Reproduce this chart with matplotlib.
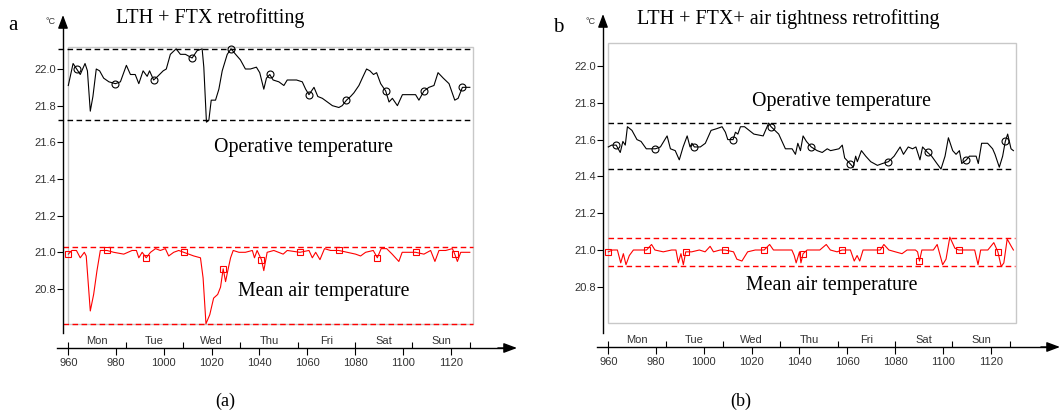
import numpy as np
import matplotlib
matplotlib.use("Agg")
import matplotlib.pyplot as plt
from matplotlib.patches import Rectangle

plt.rcParams['font.family'] = ['Liberation Sans Narrow', 'Liberation Sans', 'DejaVu Sans']
SERIF = ['Liberation Serif', 'DejaVu Serif']

# ---- data (hour of year, deg C) ----
a_op_t = [960, 962, 963.5, 965, 967, 968, 969.2, 970.3, 971.7, 973.1, 974.8, 977, 979.7, 981.8,
          984.3, 986, 988, 989.5, 991.3, 993, 994, 995.7, 997.4, 999.7, 1001, 1002.7, 1005.1,
          1006.9, 1009, 1011.8, 1013.9, 1016, 1016.7, 1017.8, 1018.8, 1019.8, 1021.6, 1023,
          1024.4, 1026.5, 1028.1, 1030, 1032, 1034.1, 1036.2, 1038.7, 1040.1, 1041.8, 1042.9,
          1044.3, 1045.7, 1048.1, 1050.2, 1051.6, 1055.5, 1057.9, 1059.3, 1060.7, 1062.8,
          1064.4, 1066.3, 1068.4, 1070.5, 1073.2, 1074.6, 1076.4, 1078.1, 1079.5, 1081.6, 1083,
          1084.8, 1086.2, 1087.7, 1089, 1090.7, 1092.8, 1094.2, 1095.6, 1097.7, 1099.8, 1102.6,
          1105.3, 1106.7, 1108.8, 1110.9, 1113, 1114.7, 1116.9, 1119.3, 1121.7, 1123.1, 1124.9, 1128]
a_op_v = [21.91, 22.03, 22.00, 21.97, 22.03, 21.99, 21.77, 21.85, 22.00, 21.99, 21.95, 21.93, 21.92, 21.93,
          22.02, 21.97, 21.97, 21.92, 21.99, 21.96, 21.99, 21.94, 21.96, 21.99, 22.00, 22.08, 22.11,
          22.08, 22.08, 22.06, 22.10, 22.11, 22.01, 21.71, 21.72, 21.83, 21.83, 21.89,
          21.99, 22.08, 22.11, 22.08, 22.05, 22.00, 22.00, 22.01, 21.98, 21.89, 21.95,
          21.97, 21.94, 21.93, 21.91, 21.94, 21.94, 21.93, 21.89, 21.86, 21.90,
          21.85, 21.84, 21.82, 21.80, 21.79, 21.80, 21.83, 21.85, 21.87, 21.91, 21.95,
          22.00, 21.99, 21.97, 21.98, 21.92, 21.88, 21.82, 21.84, 21.80, 21.86, 21.86,
          21.86, 21.83, 21.88, 21.90, 21.91, 21.98, 21.95, 21.92, 21.83, 21.84, 21.90, 21.90]
a_op_marks = [963.5, 979.7, 995.7, 1011.8, 1028.1, 1044.3, 1060.7, 1076.4, 1092.8, 1108.8, 1124.9]

a_air_t = [960, 961.5, 963.4, 965, 966.7, 967.5, 969.2, 970.6, 972, 973.4, 976.2, 979, 983.2, 986.7,
           988.5, 989.5, 990.9, 992.6, 994.4, 996.5, 998.5, 1000.6, 1002, 1004.1, 1006.2, 1008.3,
           1010.4, 1012.5, 1015.3, 1016.4, 1017.6, 1019.2, 1020.8, 1022.5, 1023.7, 1024.8, 1025.8,
           1026.9, 1027.9, 1029, 1031.4, 1034.1, 1037, 1037.9, 1039, 1040.8, 1041.8, 1043.2, 1046,
           1049.9, 1051.6, 1056.9, 1060.7, 1062.1, 1063.5, 1065.3, 1067.2, 1069.7, 1073.2, 1076.7,
           1080.2, 1082.3, 1084.4, 1087.6, 1089.3, 1090.9, 1093.2, 1095.5, 1098.3, 1099.7, 1105.3,
           1108.8, 1111.6, 1113.4, 1115.1, 1117.9, 1120.7, 1121.7, 1122.8, 1124.2, 1128]
a_air_v = [20.99, 21.01, 21.01, 20.97, 21.00, 20.98, 20.68, 20.77, 20.90, 21.01, 21.01, 21.00, 20.99, 21.01,
           21.01, 20.97, 21.00, 20.97, 21.00, 21.02, 21.01, 21.02, 20.98, 21.00, 21.01, 21.00,
           20.99, 20.98, 20.97, 20.86, 20.61, 20.66, 20.75, 20.77, 20.81, 20.91, 20.84,
           20.91, 20.97, 21.01, 21.00, 21.00, 21.01, 20.97, 21.01, 20.96, 20.90, 21.00, 21.01,
           20.99, 21.01, 21.00, 21.01, 20.97, 21.00, 20.96, 21.02, 21.01, 21.01, 21.00,
           20.99, 20.98, 21.00, 21.01, 20.97, 21.02, 21.02, 20.99, 20.95, 21.00, 21.00,
           20.99, 21.01, 20.95, 21.01, 21.01, 21.02, 20.99, 20.95, 21.00, 21.00]
a_air_marks = [960, 976.2, 992.6, 1008.3, 1024.8, 1040.8, 1056.9, 1073.2, 1089.3, 1105.3, 1121.7]

b_op_t = [960, 961.4, 963.3, 965, 966.1, 967.1, 968, 969.9, 972, 973.7, 975.9, 979.7, 981.8, 984.6,
          986, 988, 989.7, 991.3, 993, 994.2, 995, 996, 998.5, 1000.6, 1003, 1005.5, 1007.6, 1009,
          1010, 1012.2, 1013.2, 1014.2, 1015.3, 1017, 1020.9, 1024.8, 1027.1, 1028.1, 1031.3,
          1034.1, 1036.9, 1038.3, 1039.3, 1040.4, 1041.5, 1042.9, 1044.9, 1047.4, 1049.5, 1051.6,
          1053, 1056.5, 1057.9, 1058.9, 1061.1, 1062.5, 1063.5, 1064.2, 1065.9, 1067.7, 1069.8,
          1072.6, 1074.7, 1077.2, 1079.6, 1082.1, 1083.5, 1085.5, 1087.3, 1088.7, 1090.4, 1091.5,
          1093.6, 1095.3, 1097.5, 1099.2, 1100.9, 1102.3, 1104.1, 1105.5, 1106.9, 1107.9, 1109.8,
          1111.1, 1113.9, 1114.8, 1116.2, 1118.7, 1120.8, 1121.8, 1123.6, 1125, 1126.1, 1127.1,
          1128.5, 1129.5]
b_op_v = [21.56, 21.57, 21.57, 21.53, 21.59, 21.57, 21.67, 21.65, 21.60, 21.59, 21.55, 21.55, 21.56, 21.62,
          21.55, 21.54, 21.49, 21.56, 21.62, 21.56, 21.58, 21.56, 21.56, 21.58, 21.65, 21.66, 21.67, 21.64,
          21.60, 21.60, 21.64, 21.63, 21.67, 21.67, 21.63, 21.62, 21.69, 21.67, 21.63,
          21.55, 21.55, 21.52, 21.58, 21.54, 21.62, 21.59, 21.56, 21.54, 21.53, 21.55,
          21.54, 21.55, 21.57, 21.50, 21.47, 21.45, 21.51, 21.48, 21.54, 21.51, 21.48,
          21.46, 21.47, 21.48, 21.51, 21.56, 21.52, 21.56, 21.55, 21.56, 21.49, 21.56,
          21.53, 21.51, 21.47, 21.44, 21.51, 21.61, 21.54, 21.52, 21.54, 21.47, 21.49,
          21.51, 21.51, 21.47, 21.58, 21.58, 21.55, 21.52, 21.45, 21.51, 21.59, 21.63,
          21.55, 21.54]
b_op_marks = [963.3, 979.7, 996, 1012.2, 1028.1, 1044.9, 1061.1, 1077.2, 1093.6, 1109.8, 1126.1]

b_air_t = [960, 961.8, 963.8, 965.2, 966.3, 967.4, 968.8, 970.5, 974, 976, 978.1, 979.5, 983, 986.5,
           988.3, 989.3, 990.4, 991.4, 992.4, 994.9, 998.1, 1000.5, 1002.6, 1004, 1006.8, 1008.9,
           1012.4, 1013.8, 1015.9, 1018.3, 1021.5, 1025.2, 1027.5, 1029.1, 1031.9, 1036.8, 1037.8,
           1038.6, 1040, 1040.6, 1041.5, 1043.2, 1048.5, 1051.2, 1052.9, 1055.7, 1057.8, 1061.3,
           1062.9, 1064.1, 1065.2, 1066.6, 1069, 1073.8, 1075.3, 1077.4, 1080.1, 1082.9, 1085,
           1088.5, 1089.4, 1090.2, 1091.2, 1093.5, 1096, 1097.6, 1099.9, 1101.3, 1102.9, 1105,
           1106.6, 1109.1, 1113.3, 1114.7, 1115.8, 1118.8, 1121.3, 1123, 1124.4, 1125.5, 1126.9,
           1128.6, 1129.5]
b_air_v = [20.99, 21.00, 21.00, 20.93, 20.98, 20.92, 20.97, 21.00, 21.00, 21.00, 21.03, 21.00, 20.99, 21.00,
           21.00, 20.93, 20.98, 20.92, 20.99, 20.99, 21.00, 20.99, 21.02, 20.99, 21.00, 21.00,
           20.99, 20.95, 20.94, 20.99, 21.00, 21.00, 21.03, 21.00, 21.00, 21.00, 20.97,
           20.93, 20.99, 20.93, 20.98, 21.00, 21.00, 21.03, 21.00, 20.99, 21.00, 21.00,
           20.94, 20.97, 20.94, 21.00, 21.00, 21.00, 21.03, 21.00, 20.99, 20.98, 21.00,
           21.00, 20.99, 20.94, 21.00, 21.00, 21.00, 21.03, 20.92, 20.95, 21.07, 21.01,
           21.00, 21.00, 21.00, 20.92, 21.00, 21.00, 21.04, 20.99, 20.91, 20.93, 21.06,
           21.02, 21.00]
b_air_marks = [960, 976, 992.4, 1008.9, 1025.2, 1041.5, 1057.8, 1073.8, 1090.2, 1106.6, 1123]

# envelope (dashed) levels
a_op_band = [22.11, 21.72]
a_air_band = [21.03, 20.61]
b_op_band = [21.69, 21.44]
b_air_band = [21.065, 20.915]

days = ['Mon', 'Tue', 'Wed', 'Thu', 'Fri', 'Sat', 'Sun']
day_edges = [960, 984, 1008, 1032, 1056, 1080, 1104, 1128]
x_ticks = list(range(960, 1121, 20))
y_ticks = [20.8, 21.0, 21.2, 21.4, 21.6, 21.8, 22.0]

W, H = 1062, 412
fig = plt.figure(figsize=(W / 100, H / 100), dpi=100)
ARROW = dict(arrowstyle='-|>,head_length=0.8,head_width=0.3', color='k', lw=1.0,
             mutation_scale=10, shrinkA=0, shrinkB=0)


def idx(t, marks):
    t = np.asarray(t)
    return [int(np.argmin(np.abs(t - m))) for m in marks]


def panel(left, right, top, bot, x960, y22, ys, yspine_px, yspine_bot, box, bands, series):
    xs = 2.39
    ax = fig.add_axes([left / W, 1 - bot / H, (right - left) / W, (bot - top) / H])
    xlim = (960 + (left - x960) / xs, 960 + (right - x960) / xs)
    ylim = (22 - (bot - y22) / ys, 22 - (top - y22) / ys)
    ax.set_xlim(xlim)
    ax.set_ylim(ylim)
    ax.patch.set_alpha(0)
    for s in ['top', 'right']:
        ax.spines[s].set_visible(False)
    yx = 960 + (yspine_px - x960) / xs
    ax.spines['left'].set_position(('data', yx))
    ax.spines['left'].set_bounds(22 - (yspine_bot - y22) / ys, ylim[1] - 0.03)
    ax.spines['bottom'].set_bounds(xlim[0], xlim[1] - 3)
    for s in ['left', 'bottom']:
        ax.spines[s].set_linewidth(1.0)
    ax.annotate('', xy=(yx, ylim[1]), xytext=(yx, ylim[1] - 0.06),
                arrowprops=ARROW, annotation_clip=False)
    ax.annotate('', xy=(xlim[1], ylim[0]), xytext=(xlim[1] - 8, ylim[0]),
                arrowprops=ARROW, annotation_clip=False)

    ax.set_yticks(y_ticks)
    ax.set_yticklabels([f'{v:.1f}' for v in y_ticks])
    ax.tick_params(axis='y', direction='out', length=4, width=0.8, labelsize=8,
                   labelcolor='#333333', pad=1)
    ax.set_xticks(x_ticks)
    ax.set_xticks(day_edges, minor=True)
    ax.xaxis.remove_overlapping_locs = False
    ax.tick_params(axis='x', which='major', direction='out', length=5, width=0.8,
                   labelsize=8, labelcolor='#333333', pad=2)
    ax.tick_params(axis='x', which='minor', direction='in', length=4, width=0.8)

    yday = ylim[0] + 4 / ys
    for i, d in enumerate(days):
        ax.text((day_edges[i] + day_edges[i + 1]) / 2, yday, d, ha='center', va='baseline',
                fontsize=8, color='#333333')

    bx0, bx1, by0, by1 = box
    ax.add_patch(Rectangle((bx0, by0), bx1 - bx0, by1 - by0, fill=False,
                           edgecolor='#c8c8c8', lw=1.0))

    (ob, obx), (ab, abx) = bands
    for v in ob:
        ax.hlines(v, obx[0], obx[1], colors='k', linestyles=(0, (4, 2.5)), lw=1.0)
    for v in ab:
        ax.hlines(v, abx[0], abx[1], colors='red', linestyles=(0, (4, 2.5)), lw=1.0)

    (ot, ov, om), (at, av, am) = series
    ax.plot(ot, ov, color='k', lw=0.8, marker='o', markevery=idx(ot, om), ms=5,
            mfc='none', mec='k', mew=0.8)
    ax.plot(at, av, color='red', lw=0.8, marker='s', markevery=idx(at, am), ms=5,
            mfc='none', mec='red', mew=0.8)
    return ax


panel(57, 517, 15, 348, 68.3, 69, 183.3, 63, 333,
      (960, 1129.5, 20.609, 22.12),
      ((a_op_band, (955.6, 1129.5)), (a_air_band, (957.8, 1129.5))),
      ((a_op_t, a_op_v, a_op_marks), (a_air_t, a_air_v, a_air_marks)))
panel(597, 1060, 14, 347, 608.3, 66, 184, 603, 333,
      (960, 1130.5, 20.603, 22.125),
      ((b_op_band, (960, 1128.5)), (b_air_band, (960, 1130)),),
      ((b_op_t, b_op_v, b_op_marks), (b_air_t, b_air_v, b_air_marks)))


def ftext(px, py, s, size, ha='center', va='baseline', **kw):
    fig.text(px / W, 1 - py / H, s, fontsize=size, ha=ha, va=va, **kw)


ftext(13, 30, 'a', 15, family=SERIF)
ftext(558, 32, 'b', 15, family=SERIF)
ftext(210, 23, 'LTH + FTX retrofitting', 14.5, family=SERIF)
ftext(788, 24, 'LTH + FTX+ air tightness retrofitting', 14.5, family=SERIF)
ftext(304, 152, 'Operative temperature', 14.3, family=SERIF)
ftext(324, 296, 'Mean air temperature', 14.3, family=SERIF)
ftext(842, 106, 'Operative temperature', 14.3, family=SERIF)
ftext(832, 290, 'Mean air temperature', 14.3, family=SERIF)
ftext(51, 21, '°C', 6.5, va='center', color='#333333')
ftext(591, 21, '°C', 6.5, va='center', color='#333333')
ftext(225, 406, '(a)', 13, family=SERIF)
ftext(741, 406, '(b)', 13, family=SERIF)

fig.savefig('out.png', dpi=100)
